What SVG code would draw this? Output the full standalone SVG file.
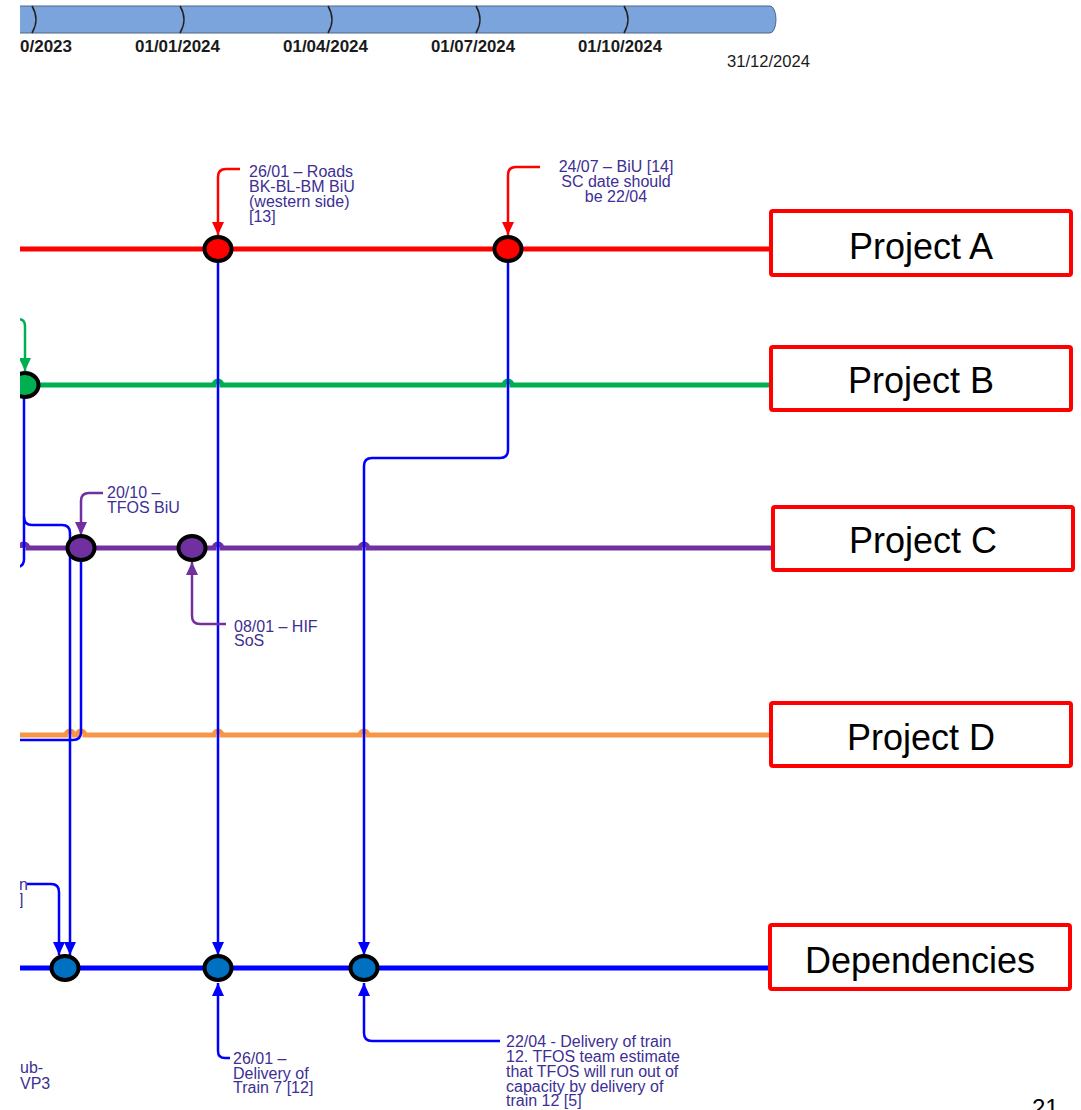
<svg xmlns="http://www.w3.org/2000/svg" width="1081" height="1110" viewBox="0 0 1081 1110">
  <style>
    .lane { fill: none; stroke-width: 5; stroke-linecap: butt; }
    .dep { fill: none; stroke: #0000ff; stroke-width: 2.5; stroke-linejoin: round; }
    .red-arrow { fill: none; stroke: #ff0000; stroke-width: 2.5; }
    .purple-arrow { fill: none; stroke: #7030a0; stroke-width: 2.5; }
    .green-arrow { fill: none; stroke: #00b050; stroke-width: 2.5; }
    .node { stroke: #000; stroke-width: 4; }
    .note { font-family: "Liberation Sans", Arial, sans-serif; font-size: 16px; fill: #3d2f94; }
    .date { font-family: "Liberation Sans", Arial, sans-serif; font-size: 16px; font-weight: bold; fill: #1a1a1a; }
    .date.end { font-weight: normal; }
    .box rect { fill: #fff; stroke: #ff0000; stroke-width: 4; }
    .box text { font-family: "Liberation Sans", Arial, sans-serif; font-size: 36px; fill: #000; text-anchor: middle; }
    .sep { fill: none; stroke: #222; stroke-width: 1.5; }
  </style>
  <defs>
    <clipPath id="plot">
      <rect x="20" y="0" width="1061" height="1110"/>
    </clipPath>
    <marker id="ah-blue" viewBox="0 0 13 12" refX="13" refY="6" markerWidth="13" markerHeight="12" markerUnits="userSpaceOnUse" orient="auto">
      <path d="M0,0 L13,6 L0,12 z" fill="#0000ff"/>
    </marker>
    <marker id="ah-red" viewBox="0 0 13 12" refX="13" refY="6" markerWidth="13" markerHeight="12" markerUnits="userSpaceOnUse" orient="auto">
      <path d="M0,0 L13,6 L0,12 z" fill="#ff0000"/>
    </marker>
    <marker id="ah-purple" viewBox="0 0 13 12" refX="13" refY="6" markerWidth="13" markerHeight="12" markerUnits="userSpaceOnUse" orient="auto">
      <path d="M0,0 L13,6 L0,12 z" fill="#7030a0"/>
    </marker>
    <marker id="ah-green" viewBox="0 0 13 12" refX="13" refY="6" markerWidth="13" markerHeight="12" markerUnits="userSpaceOnUse" orient="auto">
      <path d="M0,0 L13,6 L0,12 z" fill="#00b050"/>
    </marker>
  </defs>

  <rect width="1081" height="1110" fill="#fff"/>

  <g clip-path="url(#plot)">
    <!-- timeline bar -->
    <g id="timeline">
      <path d="M10,6 L770,6 A6,13.5 0 0 1 770,33 L10,33 Z" fill="#7ba4dc" stroke="#4f6488" stroke-width="1"/>
      <path class="sep" d="M32,6 Q40,19.5 32,33"/>
      <path class="sep" d="M180,6 Q188,19.5 180,33"/>
      <path class="sep" d="M328,6 Q336,19.5 328,33"/>
      <path class="sep" d="M476,6 Q484,19.5 476,33"/>
      <path class="sep" d="M624,6 Q632,19.5 624,33"/>
      <text class="date" x="20" y="52" textLength="52" lengthAdjust="spacingAndGlyphs">0/2023</text>
      <text class="date" x="135" y="52" textLength="85" lengthAdjust="spacingAndGlyphs">01/01/2024</text>
      <text class="date" x="283" y="52" textLength="85" lengthAdjust="spacingAndGlyphs">01/04/2024</text>
      <text class="date" x="431" y="52" textLength="84" lengthAdjust="spacingAndGlyphs">01/07/2024</text>
      <text class="date" x="578" y="52" textLength="84" lengthAdjust="spacingAndGlyphs">01/10/2024</text>
      <text class="date end" x="727" y="67" textLength="83" lengthAdjust="spacingAndGlyphs">31/12/2024</text>
    </g>

    <!-- connectors: project lanes, dependency links and milestone callouts -->
    <g id="connectors">
      <path class="lane" stroke="#ff0000" d="M20,249 L771,249"/>
      <path class="lane" stroke="#00b050" d="M20,385 L214,385 A4,4 0 0 1 222,385 L504,385 A4,4 0 0 1 512,385 L770,385"/>
      <path class="lane" stroke="#7030a0" d="M20,548 A4,4 0 0 1 28,548 L214,548 A4,4 0 0 1 222,548 L360,548 A4,4 0 0 1 368,548 L772,548"/>
      <path class="lane" stroke="#f79646" d="M20,735 L66,735 A4,4 0 0 1 74,735 L77,735 A4,4 0 0 1 85,735 L214,735 A4,4 0 0 1 222,735 L360,735 A4,4 0 0 1 368,735 L770,735"/>
      <path class="lane" stroke="#0000ff" stroke-width="7" d="M20,968 L768,968"/>

      <!-- dependency links -->
      <path class="dep" d="M24,385 L24,559 Q24,567 16,567"/>
      <path class="dep" marker-end="url(#ah-blue)" d="M24,517 Q24,525 32,525 L62,525 Q70,525 70,533 L70,955"/>
      <path class="dep" d="M81,548 L81,732 Q81,740 73,740 L16,740"/>
      <path class="dep" marker-end="url(#ah-blue)" d="M27,884 L51,884 Q59,884 59,892 L59,955"/>
      <path class="dep" marker-end="url(#ah-blue)" d="M218,249 L218,955"/>
      <path class="dep" marker-end="url(#ah-blue)" d="M508,249 L508,450 Q508,458 500,458 L372,458 Q364,458 364,466 L364,955"/>
      <path class="dep" marker-end="url(#ah-blue)" d="M230,1058 L225,1058 Q218,1058 218,1051 L218,983"/>
      <path class="dep" marker-end="url(#ah-blue)" d="M500,1041 L372,1041 Q364,1041 364,1033 L364,983"/>

      <!-- milestone callouts -->
      <path class="red-arrow" marker-end="url(#ah-red)" d="M240,169 L226,169 Q218,169 218,177 L218,235"/>
      <path class="red-arrow" marker-end="url(#ah-red)" d="M540,167 L516,167 Q508,167 508,175 L508,235"/>
      <path class="green-arrow" marker-end="url(#ah-green)" d="M16,319 L18,319 Q25,319 25,326 L25,371"/>
      <path class="purple-arrow" marker-end="url(#ah-purple)" d="M103,493 L89,493 Q81,493 81,501 L81,535"/>
      <path class="purple-arrow" marker-end="url(#ah-purple)" d="M226,624 L200,624 Q192,624 192,616 L192,562"/>
    </g>

    <!-- milestones -->
    <g id="node-a1"><ellipse class="node" cx="218" cy="249" rx="13.5" ry="12" fill="#ff0000"/></g>
    <g id="node-a2"><ellipse class="node" cx="508" cy="249" rx="13.5" ry="12" fill="#ff0000"/></g>
    <g id="node-b1"><ellipse class="node" cx="25" cy="385" rx="13.5" ry="12" fill="#00b050"/></g>
    <g id="node-c1"><ellipse class="node" cx="81" cy="548" rx="13.5" ry="12" fill="#7030a0"/></g>
    <g id="node-c2"><ellipse class="node" cx="192" cy="548" rx="13.5" ry="12" fill="#7030a0"/></g>
    <g id="node-d1"><ellipse class="node" cx="65" cy="968" rx="13.5" ry="12" fill="#0070c0"/></g>
    <g id="node-d2"><ellipse class="node" cx="218" cy="968" rx="13.5" ry="12" fill="#0070c0"/></g>
    <g id="node-d3"><ellipse class="node" cx="364" cy="968" rx="13.5" ry="12" fill="#0070c0"/></g>

    <!-- callout notes -->
    <g id="note-roads">
      <text class="note" x="249" y="177">26/01 – Roads</text>
      <text class="note" x="249" y="192">BK-BL-BM BiU</text>
      <text class="note" x="249" y="207">(western side)</text>
      <text class="note" x="249" y="222">[13]</text>
    </g>
    <g id="note-biu" text-anchor="middle">
      <text class="note" x="616" y="172">24/07 – BiU [14]</text>
      <text class="note" x="616" y="187">SC date should</text>
      <text class="note" x="616" y="202">be 22/04</text>
    </g>
    <g id="note-tfos">
      <text class="note" x="107" y="498">20/10 –</text>
      <text class="note" x="107" y="513">TFOS BiU</text>
    </g>
    <g id="note-hif">
      <text class="note" x="234" y="632">08/01 – HIF</text>
      <text class="note" x="234" y="646">SoS</text>
    </g>
    <g id="note-left-top">
      <text class="note" x="19" y="890">n</text>
      <text class="note" x="19" y="905">]</text>
    </g>
    <g id="note-left-bottom">
      <text class="note" x="20" y="1073">ub-</text>
      <text class="note" x="20" y="1089">VP3</text>
    </g>
    <g id="note-train7">
      <text class="note" x="233" y="1064">26/01 –</text>
      <text class="note" x="233" y="1078.5">Delivery of</text>
      <text class="note" x="233" y="1093">Train 7 [12]</text>
    </g>
    <g id="note-train12">
      <text class="note" x="506" y="1047">22/04 - Delivery of train</text>
      <text class="note" x="506" y="1062">12. TFOS team estimate</text>
      <text class="note" x="506" y="1077">that TFOS will run out of</text>
      <text class="note" x="506" y="1091.5">capacity by delivery of</text>
      <text class="note" x="506" y="1106">train 12 [5]</text>
    </g>
  </g>

  <!-- lane labels -->
  <g id="project-a" class="box"><rect x="771" y="211" width="300" height="64" rx="2"/><text x="921" y="259">Project A</text></g>
  <g id="project-b" class="box"><rect x="771" y="347" width="300" height="63" rx="2"/><text x="921" y="393">Project B</text></g>
  <g id="project-c" class="box"><rect x="773" y="507" width="300" height="63" rx="2"/><text x="923" y="553">Project C</text></g>
  <g id="project-d" class="box"><rect x="771" y="703" width="300" height="63" rx="2"/><text x="921" y="750">Project D</text></g>
  <g id="dependencies" class="box"><rect x="770" y="925" width="300" height="64" rx="2"/><text x="920" y="973">Dependencies</text></g>

  <text x="1032" y="1116" font-family="Liberation Sans, Arial, sans-serif" font-size="24" fill="#000">21</text>
</svg>
